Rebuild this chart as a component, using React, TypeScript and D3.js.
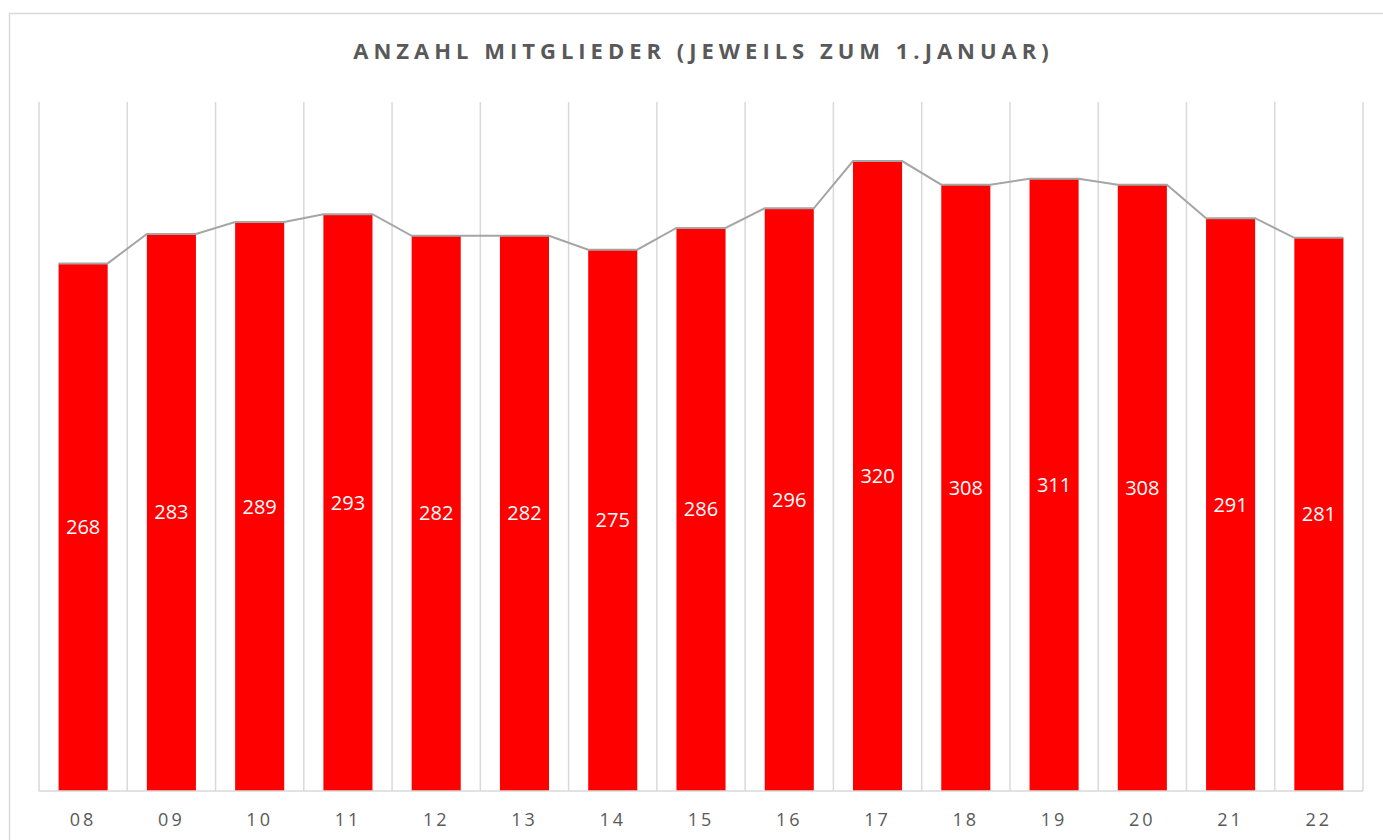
import * as d3 from 'd3'

const years = ['08', '09', '10', '11', '12', '13', '14', '15', '16', '17', '18', '19', '20', '21', '22']
const members = [268, 283, 289, 293, 282, 282, 275, 286, 296, 320, 308, 311, 308, 291, 281]
const title = 'ANZAHL MITGLIEDER (JEWEILS ZUM 1.JANUAR)'

const W = 1383
const H = 840
const plot = { left: 39, right: 1363, top: 102, bottom: 791 }

export default function App() {
  const x = d3
    .scaleBand<string>()
    .domain(years)
    .range([plot.left, plot.right])
    .paddingInner(0.444)
    .paddingOuter(0.222)

  const y = d3.scaleLinear().domain([0, 350]).range([plot.bottom, plot.top])

  const step = x.step()
  const bw = x.bandwidth()

  // series line: across each bar top, then to the next bar's top-left corner
  const pts: [number, number][] = []
  years.forEach((yr, i) => {
    const x0 = x(yr) as number
    pts.push([x0, y(members[i])])
    pts.push([x0 + bw, y(members[i])])
  })
  const line = d3.line()

  const font = '"Open Sans", "DejaVu Sans", sans-serif'

  return (
    <svg
      width={W}
      height={H}
      style={{ position: 'absolute', left: 0, top: 0, background: '#fff' }}
    >
      <rect x={9.5} y={13.5} width={W + 20} height={H + 20} fill="#fff" stroke="#d9d9d9" strokeWidth={1.5} />

      <text
        x={(plot.left + plot.right) / 2 + 2.5}
        y={59}
        textAnchor="middle"
        fill="#595959"
        fontFamily={font}
        fontWeight={700}
        fontSize={22}
        letterSpacing={5}
      >
        {title}
      </text>

      {d3.range(years.length + 1).map(i => {
        const gx = plot.left + i * step
        return (
          <line key={i} x1={gx} x2={gx} y1={plot.top} y2={plot.bottom} stroke="#d9d9d9" strokeWidth={1.5} />
        )
      })}

      {years.map((yr, i) => (
        <rect
          key={yr}
          x={x(yr)}
          y={y(members[i])}
          width={bw}
          height={plot.bottom - y(members[i])}
          fill="#ff0000"
        />
      ))}

      <line x1={plot.left} x2={plot.right} y1={plot.bottom} y2={plot.bottom} stroke="#d9d9d9" strokeWidth={1.5} />

      <path d={line(pts) as string} fill="none" stroke="#a5a5a5" strokeWidth={2} />

      {years.map((yr, i) => (
        <text
          key={'v' + yr}
          x={(x(yr) as number) + bw / 2}
          y={(y(members[i]) + plot.bottom) / 2}
          dy="0.35em"
          textAnchor="middle"
          fill="#fff"
          fontFamily={font}
          fontSize={20}
        >
          {members[i]}
        </text>
      ))}

      {years.map(yr => (
        <text
          key={'t' + yr}
          x={(x(yr) as number) + bw / 2}
          y={820}
          dy="0.35em"
          textAnchor="middle"
          fill="#595959"
          fontFamily={font}
          fontSize={18}
          letterSpacing={3}
        >
          {yr}
        </text>
      ))}
    </svg>
  )
}
